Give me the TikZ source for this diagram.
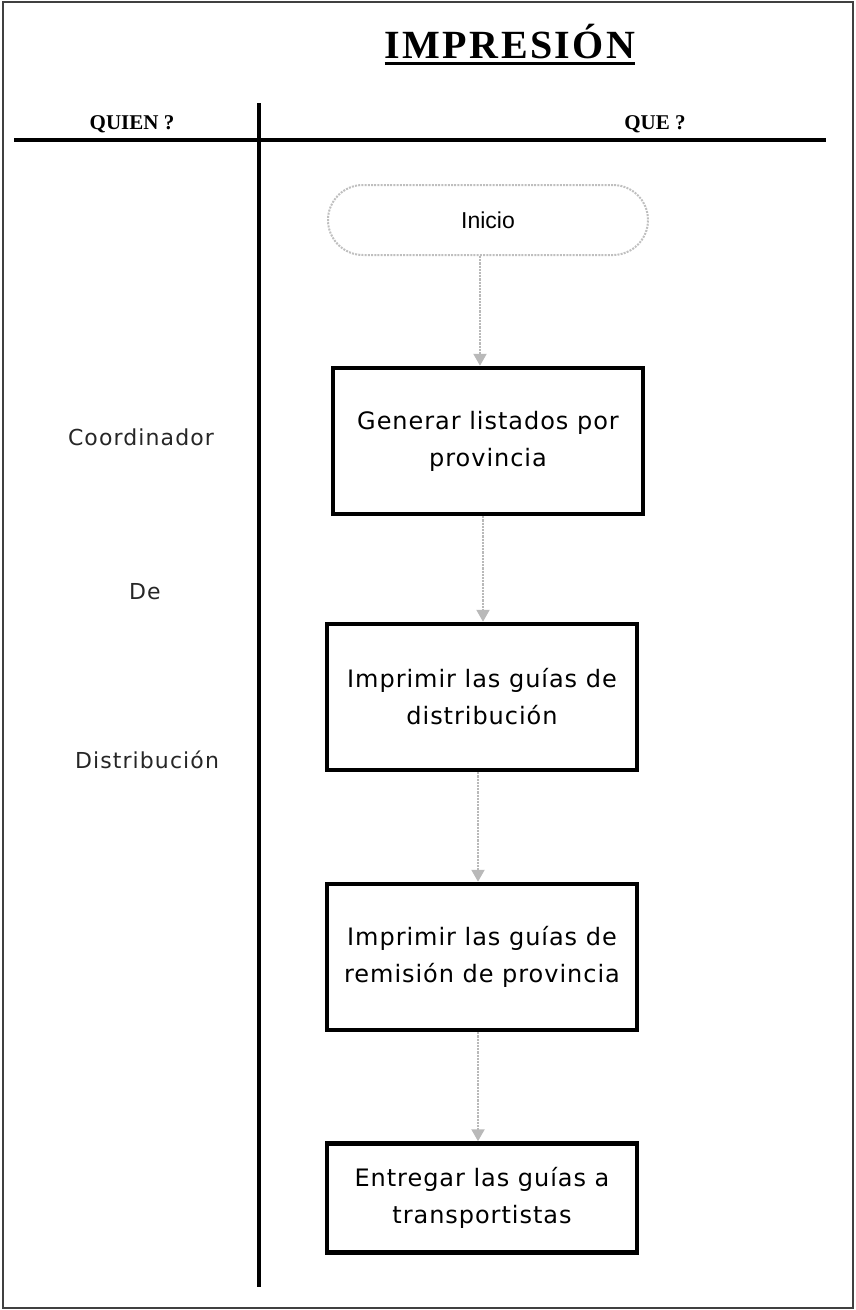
\documentclass[tikz,border=0pt]{standalone}
\usepackage{fontspec}
\usepackage{xcolor}
\usepackage{tikz}
\usetikzlibrary{arrows.meta,positioning}
\newfontfamily\boxfont[LetterSpace=4]{DejaVu Sans}
\newfontfamily\sidefont[LetterSpace=5]{DejaVu Sans}
\newfontfamily\startfont{Liberation Sans}
\newfontfamily\titlefont[LetterSpace=6]{Liberation Serif}
\newfontfamily\headfont{Liberation Serif}

\begin{document}
\begin{tikzpicture}[x=1pt, y=-1pt,
  paso/.style={draw, line width=4.5pt, minimum width=310pt, minimum height=146pt, align=center, font=\boxfont\fontsize{24}{37}\selectfont},
  flujo/.style={draw=gray!55, line width=2.2pt, densely dotted, -{Triangle[width=13pt,length=12pt]}},
  quien/.style={font=\sidefont\fontsize{22}{26}\selectfont, text=black!85},
  cabeza/.style={anchor=base, font=\headfont\bfseries\fontsize{21}{24}\selectfont}]
\useasboundingbox (0,0) rectangle (855,1310);
\draw[line width=1.5pt, black!75] (3,2) rectangle (853,1308);
\node[anchor=base, inner sep=0, font=\titlefont\bfseries\fontsize{40}{42}\selectfont] (titulo) at (510,58) {IMPRESIÓN};
\draw[line width=3pt] ([yshift=-5pt]titulo.base west) -- ([yshift=-5pt]titulo.base east);
\node[cabeza] (quien) at (132,129) {QUIEN ?};
\node[cabeza] (que) at (655,129) {QUE ?};
\draw[line width=3.5pt] (14,140) -- (826,140);
\draw[line width=4pt] (259,103) -- (259,1287);
\node[draw=gray!50, dash pattern=on 2pt off 1.2pt, line width=2pt, rounded corners=35pt, minimum width=320pt, minimum height=70pt, font=\startfont\fontsize{23}{26}\selectfont] (inicio) at (488,220) {Inicio};
\node[paso] (generar) at (488,441) {Generar listados por\\provincia};
\node[paso] (imprimir) at (482,697) {Imprimir las guías de\\distribución};
\node[paso] (remision) at (482,957) {Imprimir las guías de\\remisión de provincia};
\node[paso, minimum height=109pt] (entregar) at (482,1198) {Entregar las guías a\\transportistas};
\draw[flujo] ([xshift=-8pt]inicio.south) -- ([xshift=-8pt]generar.north);
\draw[flujo] ([xshift=-5pt]generar.south) -- ([xshift=1pt]imprimir.north);
\draw[flujo] ([xshift=-4pt]imprimir.south) -- ([xshift=-4pt]remision.north);
\draw[flujo] ([xshift=-4pt]remision.south) -- ([xshift=-4pt]entregar.north);
\node[quien] (coord) at (141,437) {Coordinador};
\node[quien] (de) at (145,592) {De};
\node[quien] (distrib) at (147,760) {Distribución};
\end{tikzpicture}
\end{document}
